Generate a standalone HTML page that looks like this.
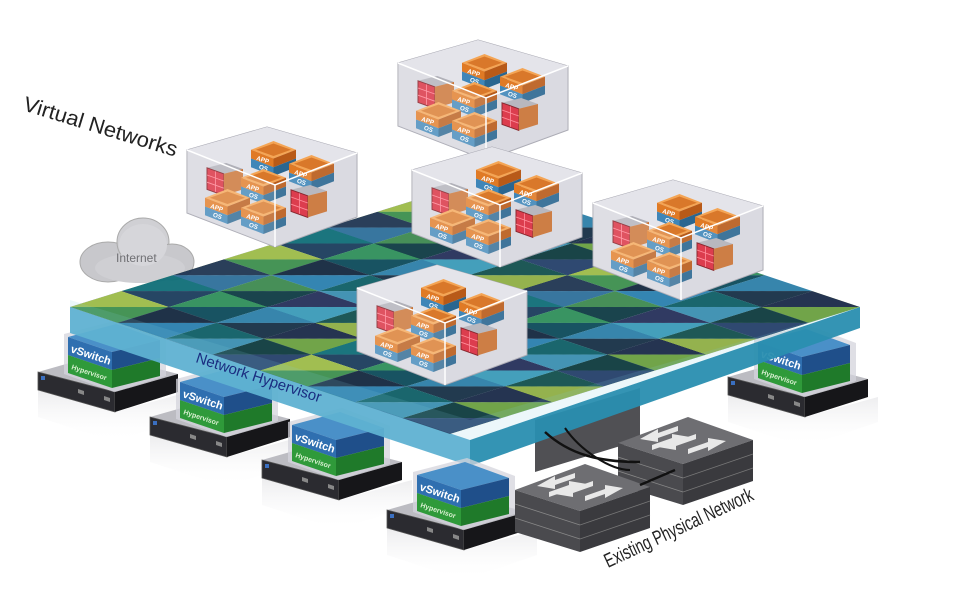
<!DOCTYPE html>
<html><head><meta charset="utf-8"><style>
html,body{margin:0;padding:0;background:#fff;}
svg{display:block;}
text{font-family:"Liberation Sans",sans-serif;}
</style></head><body>
<svg width="961" height="616" viewBox="0 0 961 616" xmlns="http://www.w3.org/2000/svg">
<defs>
<pattern id="mos" patternUnits="userSpaceOnUse" width="200" height="150">
<polygon points="0,0 50,0 0,50" fill="#0f6e78"/><polygon points="50,0 50,50 0,50" fill="#1b3d5c"/>
<polygon points="50,0 100,0 50,50" fill="#2f8f5a"/><polygon points="100,0 100,50 50,50" fill="#0c4a5a"/>
<polygon points="100,0 150,0 100,50" fill="#2d7fa8"/><polygon points="150,0 150,50 100,50" fill="#173046"/>
<polygon points="150,0 200,0 150,50" fill="#1a2a48"/><polygon points="200,0 200,50 150,50" fill="#6aa040"/>
<polygon points="0,50 50,50 0,100" fill="#9dbb48"/><polygon points="50,50 50,100 0,100" fill="#3d8f4e"/>
<polygon points="50,50 100,50 50,100" fill="#14283f"/><polygon points="100,50 100,100 50,100" fill="#2a7fae"/>
<polygon points="100,50 150,50 100,100" fill="#0e5e66"/><polygon points="150,50 150,100 100,100" fill="#3a8fb0"/>
<polygon points="150,50 200,50 150,100" fill="#0d3a3e"/><polygon points="200,50 200,100 150,100" fill="#24406a"/>
<polygon points="0,100 50,100 0,150" fill="#1f3552"/><polygon points="50,100 50,150 0,150" fill="#2e6f9a"/>
<polygon points="50,100 100,100 50,150" fill="#3e8a50"/><polygon points="100,100 100,150 50,150" fill="#0e3b44"/>
<polygon points="100,100 150,100 100,150" fill="#25305a"/><polygon points="150,100 150,150 100,150" fill="#3a9ab8"/>
<polygon points="150,100 200,100 150,150" fill="#12504e"/><polygon points="200,100 200,150 150,150" fill="#8fae45"/>
</pattern>
<linearGradient id="shadow" x1="0" y1="0" x2="0" y2="1"><stop offset="0" stop-color="#d8d8dc"/><stop offset="1" stop-color="#fff" stop-opacity="0"/></linearGradient>
<g id="srv">
<polygon points="0,18 77,40 150,20 150,45 77,70 0,45" fill="url(#shadow)" opacity="0.5"/>
<polygon points="0,0 77,20 140,2 63,-18" fill="#bcbcc2"/>
<polygon points="0,0 77,20 77,40 0,18" fill="#2b2b30" stroke="#555" stroke-width="0.8"/>
<polygon points="77,20 140,2 140,20 77,40" fill="#161619"/>
<rect x="3" y="4" width="4" height="4" fill="#3a6fc0"/>
<polygon points="40,17 46,19 46,23 40,21" fill="#888"/>
<polygon points="66,24 72,26 72,30 66,28" fill="#888"/>
<polygon points="26,-38 80,-52 128,-34 128,4 76,20 26,2" fill="#d4d4dc" opacity="0.75"/>
<polygon points="30,-35 78,-48 122,-32 74,-20" fill="#4a90c8"/>
<polygon points="30,-35 74,-20 74,-2 30,-17" fill="#2f6fb0"/>
<polygon points="30,-17 74,-2 74,16 30,1" fill="#2f9a3a"/>
<polygon points="74,-20 122,-32 122,-14 74,-2" fill="#1f4f8a"/>
<polygon points="74,-2 122,-14 122,4 74,16" fill="#1f7a2a"/>
<text x="32" y="-20" font-size="11" font-weight="bold" fill="#fff" transform="rotate(18 32 -20)">vSwitch</text>
<text x="33" y="-3" font-size="7" font-weight="bold" fill="#d8f0d0" transform="rotate(18 33 -3)">Hypervisor</text>
</g>
<g id="vm">
<polygon points="0,7 18,0 36,7 18,14" fill="#f4a555"/>
<polygon points="4,7 18,2 32,7 18,12" fill="#d9782a"/>
<polygon points="0,7 18,14 18,21 0,14" fill="#e07a25"/>
<polygon points="0,14 18,21 18,28 0,21" fill="#3f86b8"/>
<polygon points="18,14 36,7 36,14 18,21" fill="#b85a18"/>
<polygon points="18,21 36,14 36,21 18,28" fill="#2a6690"/>
<text x="4" y="15" font-size="5" font-weight="bold" fill="#fff" transform="rotate(18 4 15)">APP</text>
<text x="6" y="22" font-size="5" font-weight="bold" fill="#fff" transform="rotate(18 6 22)">OS</text>
</g>
<g id="fw">
<polygon points="0,4 16,0 30,5 14,9" fill="#b0b0b8"/>
<polygon points="0,4 14,9 14,27 0,22" fill="#d8283a" stroke="#7a1018" stroke-width="0.8"/>
<polygon points="14,9 30,5 30,22 14,27" fill="#c87030"/>
<line x1="0" y1="10" x2="14" y2="15" stroke="#ff8090" stroke-width="0.7"/>
<line x1="0" y1="16" x2="14" y2="21" stroke="#ff8090" stroke-width="0.7"/>
<line x1="7" y1="7" x2="7" y2="24" stroke="#ff8090" stroke-width="0.7"/>
</g>
<g id="box">
<polygon points="0,23 80,0 170,26 170,90 88,120 0,86" fill="#d6d6de" stroke="#a8a8b2" stroke-width="1"/>
<polygon points="0,23 80,0 170,26 88,58" fill="#e4e4ea"/>
<use href="#vm" transform="translate(64 14) scale(1.25)"/>
<use href="#fw" transform="translate(20 36) scale(1.2)"/>
<use href="#vm" transform="translate(102 28) scale(1.25)"/>
<use href="#vm" transform="translate(54 42) scale(1.25)"/>
<use href="#vm" transform="translate(18 62) scale(1.25)"/>
<use href="#vm" transform="translate(54 72) scale(1.25)"/>
<use href="#fw" transform="translate(104 58) scale(1.2)"/>
<polygon points="0,23 88,58 88,120 0,86" fill="#fff" opacity="0.2"/>
<polygon points="88,58 170,26 170,90 88,120" fill="#fff" opacity="0.1"/>
<polyline points="0,23 88,58 170,26" fill="none" stroke="#fff" stroke-width="1.5"/>
<line x1="88" y1="58" x2="88" y2="120" stroke="#fff" stroke-width="1.5"/>
</g>
<g id="sw">
<polygon points="0,0 65,21 135,-3 70,-26" fill="#6e6e72"/>
<polygon points="0,0 65,21 65,62 0,42" fill="#4a4a4e"/>
<polygon points="65,21 135,-3 135,38 65,62" fill="#3a3a3e"/>
<line x1="0" y1="14" x2="65" y2="35" stroke="#888" stroke-width="0.8"/>
<line x1="0" y1="28" x2="65" y2="49" stroke="#888" stroke-width="0.8"/>
<line x1="65" y1="35" x2="135" y2="11" stroke="#777" stroke-width="0.8"/>
<line x1="65" y1="49" x2="135" y2="25" stroke="#777" stroke-width="0.8"/>
<polygon points="22,-4 40,-14 40,-10 60,-17 60,-12 40,-5 40,-1" fill="#e8e8e8"/>
<polygon points="72,-6 54,4 54,0 34,7 34,2 54,-5 54,-9" fill="#e8e8e8"/>
<polygon points="40,4 58,-6 58,-2 78,-9 78,-4 58,3 58,7" fill="#e8e8e8"/>
<polygon points="108,-2 90,8 90,4 70,11 70,6 90,-1 90,-5" fill="#e8e8e8"/>
</g>
</defs>

<g>
<ellipse cx="108" cy="262" rx="28" ry="20" fill="#c8c8cc" stroke="#aaa"/>
<ellipse cx="143" cy="242" rx="26" ry="24" fill="#d0d0d4" stroke="#aaa"/>
<ellipse cx="172" cy="262" rx="22" ry="18" fill="#c8c8cc" stroke="#aaa"/>
<ellipse cx="140" cy="268" rx="45" ry="15" fill="#cfcfd3"/>
<ellipse cx="143" cy="245" rx="24" ry="21" fill="#d6d6da"/>
<text x="116" y="262" font-size="12" fill="#707074">Internet</text>
</g>

<use href="#srv" x="38" y="372"/>
<use href="#srv" x="150" y="417"/>
<use href="#srv" x="262" y="460"/>
<use href="#srv" x="728" y="377"/>

<polygon points="535,420 640,388 640,440 535,472" fill="#505054"/>

<g opacity="0.95">
<polygon points="70,307 470,440 470,466 70,333" fill="#5fb2d2"/>
<polygon points="470,440 860,307 860,328 470,466" fill="#2a8fb0"/>
<g transform="matrix(0.95,0.3175,-1.025,0.3175,480,180)">
<rect x="0" y="0" width="400" height="400" fill="url(#mos)"/>
</g>
<polygon points="70,307 470,440 860,307 470,420 70,300" fill="#7cc8e0" opacity="0.15"/>
</g>
<text x="195" y="362" font-size="15" fill="#1a2c80" transform="rotate(18 195 362)">Network Hypervisor</text>

<use href="#srv" x="387" y="510"/>

<use href="#sw" x="618" y="443"/>
<use href="#sw" x="515" y="490"/>
<path d="M545,432 C570,455 600,462 640,462" stroke="#111" stroke-width="2.5" fill="none"/>
<path d="M565,428 C580,450 610,470 630,470" stroke="#111" stroke-width="2" fill="none"/>
<path d="M640,485 L675,470" stroke="#111" stroke-width="2.5" fill="none"/>

<use href="#box" x="187" y="127"/>
<use href="#box" x="398" y="40"/>
<use href="#box" x="412" y="147"/>
<use href="#box" x="593" y="180"/>
<use href="#box" x="357" y="265"/>

<text x="22" y="110" font-size="21" fill="#222" transform="rotate(17 22 110)" textLength="160" lengthAdjust="spacingAndGlyphs">Virtual Networks</text>
<text x="608" y="568" font-size="20" fill="#222" transform="rotate(-25 608 568)" textLength="162" lengthAdjust="spacingAndGlyphs">Existing Physical Network</text>
</svg>
</body></html>
